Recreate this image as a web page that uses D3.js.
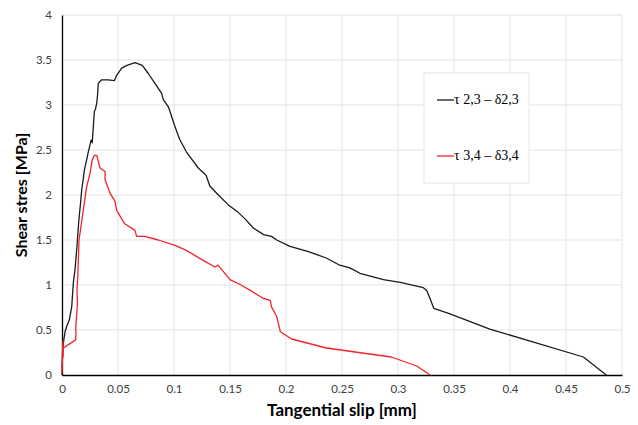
<html>
<head>
<script src="https://d3js.org/d3.v7.min.js"></script>
<style>
  body { margin: 0; background: #fff; }
  .tick text { font-family: Lato, "Open Sans", sans-serif; font-size: 11.5px; fill: #404040; }
</style>
</head>
<body>
<svg id="svg" width="638" height="425"></svg>
<script>
// tau 2,3 - delta 2,3 (black)
var slip23 = [0, 0.0005, 0.0015, 0.0027, 0.0045, 0.0065, 0.0087, 0.0101, 0.0116, 0.0125, 0.0135, 0.0146, 0.0155, 0.0165, 0.0176, 0.019, 0.02, 0.022, 0.0235, 0.026, 0.027, 0.0289, 0.0298, 0.031, 0.0318, 0.0324, 0.0354, 0.0413, 0.0467, 0.0488, 0.0533, 0.058, 0.0652, 0.0717, 0.077, 0.083, 0.089, 0.0904, 0.095, 0.1003, 0.105, 0.111, 0.1217, 0.1286, 0.132, 0.1396, 0.1485, 0.157, 0.163, 0.171, 0.18, 0.187, 0.1917, 0.2036, 0.22, 0.236, 0.248, 0.257, 0.266, 0.287, 0.302, 0.3226, 0.3256, 0.3286, 0.332, 0.3464, 0.382, 0.4655, 0.486];
var stress23 = [0, 0.28, 0.38, 0.48, 0.55, 0.61, 0.76, 1.02, 1.17, 1.3, 1.45, 1.65, 1.78, 1.9, 2.06, 2.18, 2.28, 2.39, 2.48, 2.61, 2.58, 2.93, 2.95, 3.02, 3.12, 3.24, 3.28, 3.28, 3.27, 3.33, 3.41, 3.44, 3.47, 3.44, 3.35, 3.24, 3.13, 3.06, 2.98, 2.78, 2.62, 2.48, 2.3, 2.22, 2.1, 2.0, 1.89, 1.81, 1.74, 1.63, 1.56, 1.54, 1.5, 1.43, 1.37, 1.3, 1.22, 1.19, 1.13, 1.06, 1.03, 0.97, 0.94, 0.85, 0.74, 0.68, 0.51, 0.2, 0];

// tau 3,4 - delta 3,4 (red)
var slip34 = [0, 0.0008, 0.001, 0.0012, 0.0122, 0.0125, 0.0122, 0.0128, 0.0138, 0.0134, 0.014, 0.0152, 0.019, 0.022, 0.025, 0.027, 0.0289, 0.031, 0.034, 0.0384, 0.0385, 0.0429, 0.0473, 0.0488, 0.056, 0.065, 0.0667, 0.074, 0.086, 0.101, 0.11, 0.117, 0.128, 0.1366, 0.1393, 0.1426, 0.15, 0.16, 0.168, 0.18, 0.186, 0.187, 0.1917, 0.195, 0.205, 0.236, 0.294, 0.3167, 0.3286];
var stress34 = [0.02, 0.38, 0.2, 0.3, 0.39, 0.47, 0.52, 0.61, 0.8, 0.95, 1.06, 1.5, 1.83, 2.09, 2.24, 2.39, 2.44, 2.44, 2.3, 2.26, 2.17, 2.02, 1.93, 1.83, 1.68, 1.61, 1.54, 1.54, 1.5, 1.44, 1.39, 1.34, 1.26, 1.2, 1.22, 1.17, 1.06, 1.0, 0.94, 0.85, 0.83, 0.76, 0.65, 0.48, 0.4, 0.3, 0.2, 0.1, 0];

var xTicks = [0, 0.05, 0.1, 0.15, 0.2, 0.25, 0.3, 0.35, 0.4, 0.45, 0.5];
var yTicks = [0, 0.5, 1, 1.5, 2, 2.5, 3, 3.5, 4];

var series = [
  {name: "\u03c4 2,3 \u2013 \u03b42,3", color: "#1a1a1a", x: slip23, y: stress23},
  {name: "\u03c4 3,4 \u2013 \u03b43,4", color: "#f0242a", x: slip34, y: stress34}
];

var svg = d3.select("svg");
var plotLeft = 62, plotRight = 622, plotTop = 15, plotBottom = 375;

var x = d3.scaleLinear().domain([0, 0.5]).range([plotLeft, plotRight]);
var y = d3.scaleLinear().domain([0, 4]).range([plotBottom, plotTop]);

// gridlines
svg.append("g").selectAll("line").data(xTicks.slice(1)).enter().append("line")
  .attr("x1", d => x(d)).attr("x2", d => x(d)).attr("y1", plotTop).attr("y2", plotBottom)
  .attr("stroke", "#e3e3e3").attr("stroke-width", 1);
svg.append("g").selectAll("line").data(yTicks.slice(1)).enter().append("line")
  .attr("x1", plotLeft).attr("x2", plotRight).attr("y1", d => y(d)).attr("y2", d => y(d))
  .attr("stroke", "#e3e3e3").attr("stroke-width", 1);

// axes
var xAxis = svg.append("g").attr("transform", "translate(0," + plotBottom + ")")
  .call(d3.axisBottom(x).tickValues(xTicks).tickSize(0).tickPadding(10).tickFormat(d => d));
xAxis.select(".domain").attr("stroke", "#000").attr("stroke-width", 1.3);
var yAxis = svg.append("g").attr("transform", "translate(" + plotLeft + ",0)")
  .call(d3.axisLeft(y).tickValues(yTicks).tickSize(0).tickPadding(10).tickFormat(d => d));
yAxis.select(".domain").attr("stroke", "#000").attr("stroke-width", 1.3);

// curves
var line = d3.line().x(d => x(d[0])).y(d => y(d[1]));
series.forEach(function(s) {
  var pts = s.x.map((v, i) => [v, s.y[i]]);
  svg.append("path").attr("d", line(pts))
    .attr("fill", "none").attr("stroke", s.color).attr("stroke-width", 1.3)
    .attr("stroke-linejoin", "round");
});

// axis titles
svg.append("text").attr("x", (plotLeft + plotRight) / 2).attr("y", 416)
  .attr("text-anchor", "middle")
  .style("font-family", "Lato, 'Open Sans', sans-serif").style("font-weight", "bold").style("font-size", "17px")
  .attr("fill", "#000").text("Tangential slip [mm]");
svg.append("text").attr("transform", "translate(27," + (plotTop + plotBottom) / 2 + ") rotate(-90)")
  .attr("text-anchor", "middle")
  .style("font-family", "Lato, 'Open Sans', sans-serif").style("font-weight", "bold").style("font-size", "16px")
  .attr("fill", "#000").text("Shear stres [MPa]");

// legend
var lg = svg.append("g");
lg.append("rect").attr("x", 424).attr("y", 73).attr("width", 105).attr("height", 110)
  .attr("fill", "#fff").attr("stroke", "#e6e6e6");
series.forEach(function(s, i) {
  var ly = 100 + i * 56;
  lg.append("line").attr("x1", 437).attr("x2", 454).attr("y1", ly).attr("y2", ly)
    .attr("stroke", s.color).attr("stroke-width", 1.3);
  lg.append("text").attr("x", 454).attr("y", ly + 4)
    .style("font-family", "'Liberation Serif', serif").style("font-size", "14px")
    .attr("fill", "#000").text(s.name);
});
</script>
</body>
</html>
